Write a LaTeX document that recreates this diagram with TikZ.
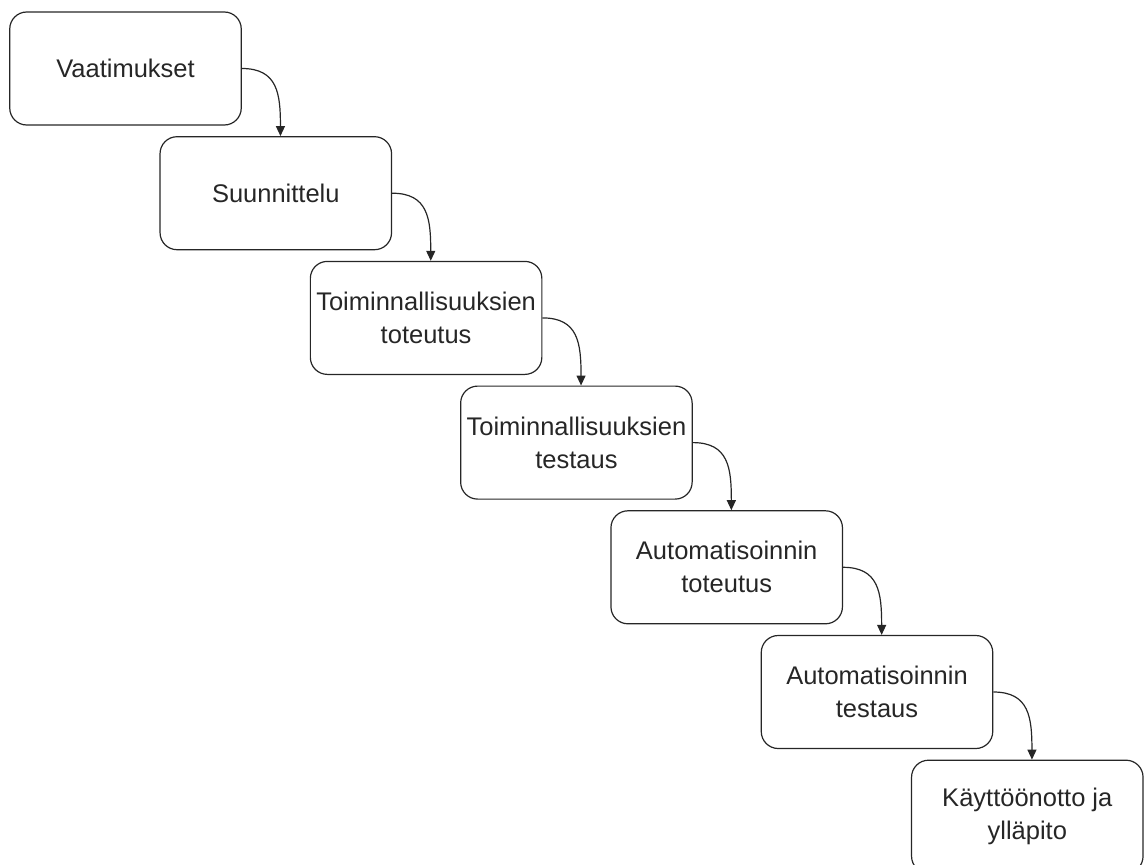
\documentclass[tikz,border=0pt]{standalone}
\usepackage{fontspec}
\setmainfont{Liberation Sans}
\usetikzlibrary{arrows.meta,calc}
\begin{document}
\begin{tikzpicture}[x=1bp,y=-1bp,
  stage/.style={draw=black!85, line width=1.2bp, rounded corners=17bp,
    minimum width=231.5bp, minimum height=113bp, inner sep=0pt,
    align=center, font=\fontsize{25.5bp}{33bp}\selectfont, text=black!85},
  flow/.style={draw=black!85, line width=1.2bp,
    -{Triangle[length=10bp,width=9bp]}}]
\useasboundingbox (0,0) rectangle (1146,865);
\clip (0,0) rectangle (1146,865);

% process stages, stepping down and to the right
\node[stage] (s1) at (125.5, 68.5) {Vaatimukset};
\node[stage] (s2) at (275.8,193.2) {Suunnittelu};
\node[stage] (s3) at (426.1,317.9) {Toiminnallisuuksien\\toteutus};
\node[stage] (s4) at (576.4,442.6) {Toiminnallisuuksien\\testaus};
\node[stage] (s5) at (726.7,567.3) {Automatisoinnin\\toteutus};
\node[stage] (s6) at (877.0,692.0) {Automatisoinnin\\testaus};
\node[stage] (s7) at (1027.3,816.7) {Käyttöönotto ja\\ylläpito};

% entry points on the top edge of each following stage
\foreach \i in {2,...,7}{
  \coordinate (in\i) at ($(s\i.north west)+(121,0)$);
}

% curved connectors from the right side of a stage to the next one
\foreach \a/\b in {1/2,2/3,3/4,4/5,5/6,6/7}{
  \draw[flow] (s\a.east) .. controls +(36,0) and +(0,-42) .. (in\b);
}
\end{tikzpicture}
\end{document}
